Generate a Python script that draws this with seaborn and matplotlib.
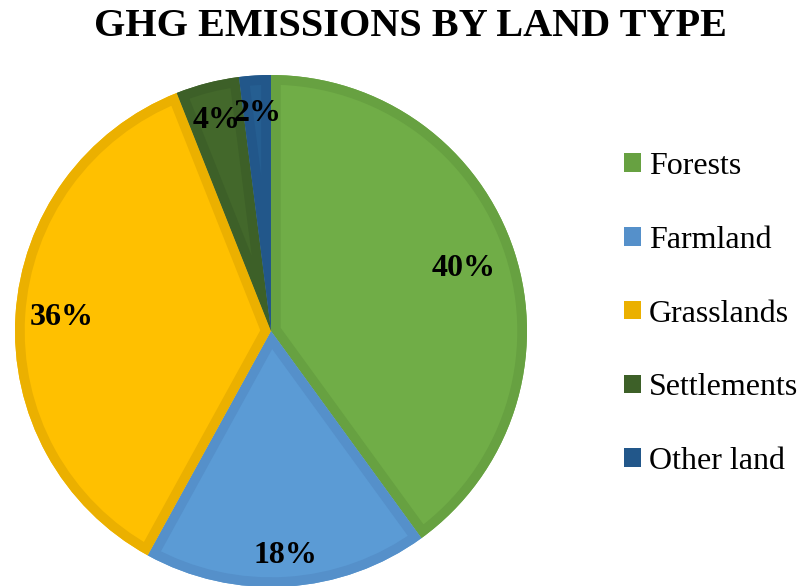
import numpy as np
import matplotlib
matplotlib.use("Agg")
import matplotlib.pyplot as plt
import seaborn as sns
from matplotlib.patches import Patch, Wedge

categories = ["Forests", "Farmland", "Grasslands", "Settlements", "Other land"]
values = [40, 18, 36, 4, 2]
labels = ["40%", "18%", "36%", "4%", "2%"]
fill_colors = ["#70AD47", "#5B9BD5", "#FFC000", "#43682B", "#255E91"]
edge_colors = ["#67A141", "#5590CA", "#EBB000", "#3D6028", "#22578A"]
label_dist = [0.79, 0.88, 0.82, 0.85, 0.85]

sns.set_theme(style="white")
plt.rcParams["font.family"] = ["Liberation Serif", "DejaVu Serif"]
plt.rcParams["text.color"] = "black"

fig = plt.figure(figsize=(7.98, 5.86), dpi=100)
W, H = 798, 586
cx, cy, R = 271, 331, 256
ax = fig.add_axes([(cx - R) / W, 1 - (cy + R) / H, 2 * R / W, 2 * R / H])

wedges, _ = ax.pie(values, colors=fill_colors, startangle=90, counterclock=False,
                   radius=1, wedgeprops=dict(linewidth=0))
for w, ec in zip(wedges, edge_colors):
    border = Wedge(w.center, w.r, w.theta1, w.theta2, facecolor="none",
                   edgecolor=ec, linewidth=14, transform=ax.transData)
    ax.add_patch(border)
    border.set_clip_path(w.get_path(), w.get_transform())

for w, lab, d in zip(wedges, labels, label_dist):
    ang = np.deg2rad((w.theta1 + w.theta2) / 2)
    ax.text(d * np.cos(ang), d * np.sin(ang), lab, ha="center", va="center",
            fontsize=23, fontweight="bold", color="black")

ax.set_xlim(-1, 1)
ax.set_ylim(-1, 1)
ax.set_aspect("equal")
ax.axis("off")

fig.text(410 / W, 1 - 26 / H, "GHG EMISSIONS BY LAND TYPE", ha="center", va="center",
         fontsize=29, fontweight="bold", color="black")

handles = [Patch(facecolor=ec, edgecolor="none") for ec in edge_colors]
leg = fig.legend(handles, categories, loc="center left", bbox_to_anchor=(624 / W, 1 - 314 / H),
                 frameon=False, fontsize=23, labelspacing=1.4, handlelength=0.52,
                 handleheight=0.52, handletextpad=0.26, borderpad=0, borderaxespad=0)
for t in leg.get_texts():
    t.set_color("black")

fig.savefig("out.png", dpi=100)
